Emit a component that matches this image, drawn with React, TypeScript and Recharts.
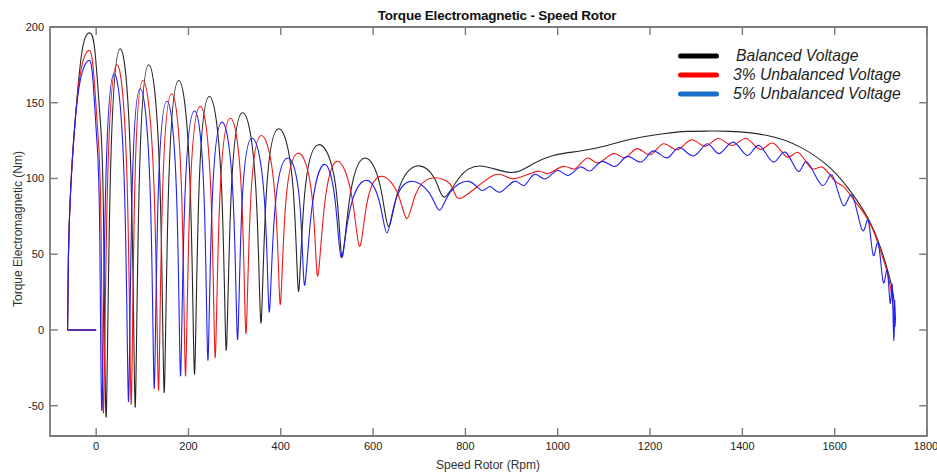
import React from 'react';
import { LineChart, Line, XAxis, YAxis, Legend, ReferenceArea, ReferenceLine } from 'recharts';

const FONT = "'Liberation Sans', Arial, sans-serif";

const speedDomain: [number, number] = [-100, 1800];
const torqueDomain: [number, number] = [-70, 200];
const speedTicks = [0, 200, 400, 600, 800, 1000, 1200, 1400, 1600, 1800];
const torqueTicks = [-50, 0, 50, 100, 150, 200];

// start-up step: (speed, torque)
const startupStep: [number, number][] = [[0, 0], [-62, 0]];

// speed rotor (rpm), torque (Nm) traced along each trajectory
const balancedVoltage: [number, number][] = [
  [-62, 0], [-60, 50], [-55, 94], [-45.5, 138], [-30, 185], [-13, 196], [-2, 182], [9, 138], [16, 72], [21.7, -57.4],
  [30.8, 100.6], [52, 185.6], [75.4, 102.8], [84.5, -51],
  [93.3, 96], [113.8, 175.1], [137.9, 99.4], [147.3, -41.3],
  [156.8, 92.6], [178.8, 164.7], [203.4, 96.8], [213, -29.2],
  [222.5, 90], [244.8, 154.1], [271.4, 95.5], [281.7, -13.4],
  [292.3, 88.5], [317, 143.4], [345.7, 94.8], [356.9, 4.6],
  [368.3, 87.9], [395, 132.8], [426.2, 95.2], [438.3, 25.5],
  [451.3, 88.4], [481.7, 122.3], [518.2, 96.4], [532.4, 48.2],
  [549.5, 87.4], [581.3, 113.5], [615.1, 95.5], [633.3, 68.4],
  [654.9, 92.3], [694.9, 108.2], [733.3, 100], [754, 87.7],
  [785.2, 100], [832.1, 108.2], [894.9, 104],
  [940.4, 108.6], [990.2, 115.2], [1048.7, 118.1], [1107.2, 121.8], [1163.6, 126.2], [1228.6, 129.5],
  [1280.6, 131.1], [1330.4, 131.3], [1373.8, 131.1], [1454, 128.4], [1525.5, 120.7], [1584, 108.6],
  [1627.3, 94.3], [1670.7, 74.5], [1698.9, 54.7], [1716.7, 37.2], [1727.6, 21.8], [1731.3, 8.6], [1730.5, 2],
];

const unbalanced3: [number, number][] = [
  [-62, 0], [-60, 50], [-55, 94], [-45.5, 138], [-32, 173], [-16.7, 184.5], [-6.3, 172.5], [3.8, 129.5], [10.6, 67.3], [15.8, -54.7],
  [24.5, 94.7], [44.9, 175.1], [67.1, 96.7], [75.8, -49],
  [83.4, 89.9], [101.2, 164.7], [125.5, 93.1], [135, -39.8],
  [143.6, 87.4], [163.6, 155.9], [185.1, 90.7], [193.5, -30.3],
  [203, 85.3], [225.3, 147.6], [248.7, 89.6], [257.8, -18.2],
  [267.6, 84.5], [290.4, 139.8], [314.9, 90], [324.4, -2.4],
  [334.3, 82.6], [357.5, 128.4], [387.2, 89.3], [398.7, 16.8],
  [410.2, 81.7], [437, 116.7], [467.6, 88.3], [479.5, 35.6],
  [494.2, 81], [521.5, 111.3], [553.4, 88.9], [570.5, 55.2],
  [586.2, 82.9], [615.4, 101.4], [653, 90.2], [673.2, 73.5],
  [692.2, 89.6], [727.4, 100.3], [769.7, 95.1], [792.4, 87.3],
  [860.2, 102], [901.4, 99.9], [955.6, 104.7], [979.4, 103.2], [1011.9, 108], [1037.9, 106.5],
  [1063.9, 113.5], [1087.7, 110.3], [1120.2, 116.4], [1146.2, 113.7], [1172.2, 119.7], [1200.4, 115.7],
  [1228.6, 122.9], [1258.9, 119], [1289.2, 125.5], [1319.6, 121.2], [1347.7, 126.4], [1378.1, 121.8],
  [1408.4, 126.4], [1438.8, 119.2], [1466.9, 123.3], [1497.3, 114.1], [1521.1, 117.2], [1549.3, 106.7],
  [1573.1, 107.5], [1599.1, 98.7], [1618.6, 94.8], [1642.4, 85.5], [1661.9, 77.8], [1681.4, 67.1],
  [1698.9, 52.6], [1714, 38.1], [1722.7, 24.9], [1728.1, 11.7], [1729.2, 5.1],
];

const unbalanced5: [number, number][] = [
  [-62, 0], [-60, 50], [-55, 94], [-45.5, 138], [-32, 168], [-16.7, 177.9], [-7.4, 166.4], [1.6, 124.8], [7.7, 64.8], [12.4, -53],
  [20.4, 91.4], [39, 169.1], [61.3, 93.4], [70, -47.2],
  [77.6, 87], [95.3, 159.2], [117.2, 89.9], [125.7, -38.7],
  [134, 84.6], [153.2, 151], [174.4, 87.5], [182.7, -30.3],
  [191.8, 83.3], [213, 144.5], [233.9, 86.9], [242, -20],
  [251.1, 82.2], [272.4, 137.2], [296.7, 87], [306.2, -6.3],
  [315.6, 80.1], [337.4, 126.6], [364.4, 86.5], [374.9, 11.9],
  [386.8, 77.9], [414.5, 113.5], [441, 84.1], [451.3, 29.5],
  [466.2, 77.4], [494, 109.3], [518, 84.7], [530.9, 47.8],
  [549.1, 78.3], [582.9, 98.7], [613.5, 84.8], [629.9, 64],
  [647.6, 84.5], [680.4, 98.1], [721.7, 90.5], [743.9, 79],
  [765.9, 90.5], [806.7, 98.1], [835.7, 92.1], [853.7, 94.7], [875.4, 91],
  [905.7, 98.1], [927.4, 95.4], [949.1, 102.7], [972.9, 99.7], [998.9, 105.3], [1022.7, 102],
  [1048.7, 107.6], [1070.4, 105], [1096.4, 111.3], [1124.6, 108], [1150.6, 114.6], [1180.9, 110.9],
  [1206.9, 118.2], [1237.2, 113.6], [1263.2, 120.5], [1294.7, 114.9], [1323.9, 122.9], [1349.9, 116.4],
  [1380.3, 124], [1410.6, 115.2], [1436.6, 121.8], [1466.9, 110.8], [1492.9, 117.4], [1521.1, 104.7],
  [1540.6, 110.8], [1573.1, 95.4], [1594.8, 102], [1618.6, 82.3], [1638.1, 88.8], [1659.8, 65.8],
  [1672.8, 72.4], [1683.6, 49.3], [1694.4, 57.2], [1705.3, 31.5], [1713.9, 39.4], [1720.4, 17.6],
  [1724.8, 29.5], [1728, -5.5], [1730.2, 19.6], [1728, -6.8], [1730.2, 15.6], [1728, -4.2], [1729.1, 7.7],
];

const toPoints = (pairs: [number, number][]) => pairs.map(([speed, torque]) => ({ speed, torque }));

const SERIES = [
  { name: 'Balanced Voltage', data: balancedVoltage, stroke: '#262626', legend: '#000000' },
  { name: '3% Unbalanced Voltage', data: unbalanced3, stroke: '#f01818', legend: '#ff0000' },
  { name: '5% Unbalanced Voltage', data: unbalanced5, stroke: '#2020f0', legend: '#1a6ec8' },
];

const AXIS = '#7a7a7a';
// inward tick length, in data units (about 8px each way)
const X_TICK_LEN = 5.3;
const Y_TICK_LEN = 17;

const LegendBox = () => (
  <div style={{ fontFamily: FONT, fontStyle: 'italic', fontSize: 15.7, color: '#1e1e1e' }}>
    {SERIES.map((s, i) => (
      <div key={s.name} style={{ display: 'flex', alignItems: 'center', height: 18.7 }}>
        <svg width={44} height={8}>
          <line x1={4.5} x2={40.5} y1={4} y2={4} stroke={s.legend} strokeWidth={5} strokeLinecap="round" />
        </svg>
        <span style={{ marginLeft: i === 0 ? 16 : 13, whiteSpace: 'nowrap' }}>{s.name}</span>
      </div>
    ))}
  </div>
);

export default function App() {
  const [xMin, xMax] = speedDomain;
  const [yMin, yMax] = torqueDomain;
  const tickStyle = { fill: '#222', fontSize: 11, fontFamily: FONT };
  return (
    <div style={{ position: 'absolute', left: 0, top: 0, width: 937, height: 473, background: '#fff', fontFamily: FONT }}>
      <div style={{ position: 'absolute', top: 9, left: 376, width: 242, textAlign: 'center', fontSize: 13.5, fontWeight: 'bold', lineHeight: '14px', color: '#111', whiteSpace: 'nowrap', letterSpacing: -0.2 }}>
        Torque Electromagnetic - Speed Rotor
      </div>
      <div style={{ position: 'absolute', left: 18, top: 229, transform: 'translate(-50%, -50%) rotate(-90deg)', fontSize: 12, color: '#333', whiteSpace: 'nowrap' }}>
        Torque Electromagnetic (Nm)
      </div>
      <div style={{ position: 'absolute', left: 488, top: 465, transform: 'translate(-50%, -50%)', fontSize: 12, color: '#333', whiteSpace: 'nowrap' }}>
        Speed Rotor (Rpm)
      </div>
      <LineChart width={937} height={473} margin={{ top: 27, right: 10, bottom: 0, left: 10 }}>
        <XAxis
          type="number"
          dataKey="speed"
          domain={speedDomain}
          ticks={speedTicks}
          allowDataOverflow
          height={37}
          tickSize={0}
          tickMargin={6}
          tick={tickStyle}
          axisLine={false}
          tickLine={false}
        />
        <YAxis
          type="number"
          dataKey="torque"
          domain={torqueDomain}
          ticks={torqueTicks}
          allowDataOverflow
          width={40}
          tickSize={0}
          tickMargin={6}
          tick={tickStyle}
          axisLine={false}
          tickLine={false}
        />
        {/* frame box with inward ticks on all four sides */}
        <ReferenceArea x1={xMin} x2={xMax} y1={yMin} y2={yMax} fill="none" stroke={AXIS} strokeWidth={1.8} ifOverflow="visible" />
        {speedTicks.map((t) => (
          <ReferenceLine key={'xb' + t} segment={[{ x: t, y: yMin }, { x: t, y: yMin + X_TICK_LEN }]} stroke={AXIS} strokeWidth={1.4} ifOverflow="visible" />
        ))}
        {speedTicks.map((t) => (
          <ReferenceLine key={'xt' + t} segment={[{ x: t, y: yMax }, { x: t, y: yMax - X_TICK_LEN }]} stroke={AXIS} strokeWidth={1.4} ifOverflow="visible" />
        ))}
        {torqueTicks.map((t) => (
          <ReferenceLine key={'yl' + t} segment={[{ x: xMin, y: t }, { x: xMin + Y_TICK_LEN, y: t }]} stroke={AXIS} strokeWidth={1.4} ifOverflow="visible" />
        ))}
        {torqueTicks.map((t) => (
          <ReferenceLine key={'yr' + t} segment={[{ x: xMax, y: t }, { x: xMax - Y_TICK_LEN, y: t }]} stroke={AXIS} strokeWidth={1.4} ifOverflow="visible" />
        ))}
        {SERIES.map((s) => (
          <Line
            key={s.name + '-step'}
            data={toPoints(startupStep)}
            dataKey="torque"
            type="linear"
            stroke={s.stroke}
            strokeWidth={1.2}
            dot={false}
            activeDot={false}
            legendType="none"
            isAnimationActive={false}
          />
        ))}
        {SERIES.map((s) => (
          <Line
            key={s.name}
            name={s.name}
            data={toPoints(s.data)}
            dataKey="torque"
            type="natural"
            stroke={s.stroke}
            strokeWidth={1.1}
            dot={false}
            activeDot={false}
            isAnimationActive={false}
          />
        ))}
        <Legend
          layout="vertical"
          align="center"
          verticalAlign="middle"
          content={() => <LegendBox />}
          wrapperStyle={{ left: 676, top: 47, width: 260 }}
        />
      </LineChart>
    </div>
  );
}
